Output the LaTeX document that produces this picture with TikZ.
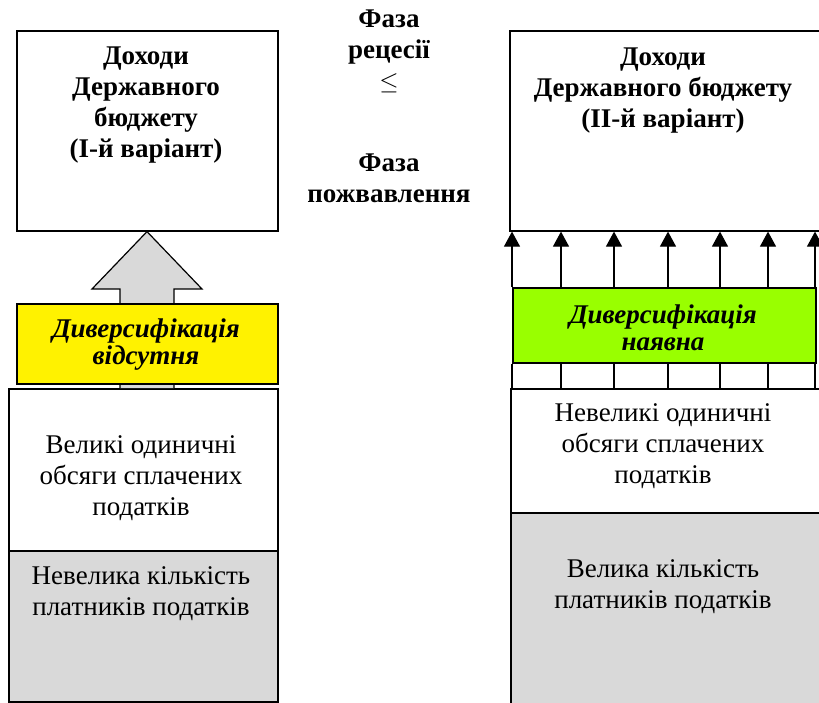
\documentclass[tikz,border=0pt]{standalone}
\usepackage{fontspec}
\setmainfont{Liberation Serif}
\usetikzlibrary{positioning,arrows.meta}
\tikzset{>={Triangle[length=15pt,width=16pt]}}
\definecolor{divgreen}{RGB}{153,255,0}

\begin{document}
\begin{tikzpicture}[x=1pt,y=-1pt,
	box/.style = {% plain boxes
		draw, line width=1.6pt, inner sep=0pt, anchor=north west},
	hd/.style = {% bold headings
		font=\fontsize{27}{31}\selectfont\bfseries, align=center},
	tx/.style = {% body text
		font=\fontsize{27}{31}\selectfont, align=center},
	dv/.style = {% diversification labels
		font=\fontsize{27}{27}\selectfont\bfseries\itshape, align=center},
	]
	\useasboundingbox (0,0) rectangle (819,702);

	% left column
	\node[box, minimum width=261pt, minimum height=200pt] (inc1) at (16,30) {};
	\node[hd] (inc1t) at (146,105) {Доходи\\Державного\\бюджету\\(І-й варіант)};
	\node[box, minimum width=269pt, minimum height=162pt] (vol1) at (8,388) {};
	\node[tx] (vol1t) at (141,478) {Великі одиничні\\обсяги сплачених\\податків};
	\node[box, fill=black!15, minimum width=269pt, minimum height=151pt] (num1) at (8,550) {};
	\node[tx] (num1t) at (141,594) {Невелика кількість\\платників податків};
	% big arrow
	\draw[line width=1.2pt, fill=black!15]
		(vol1.north -| 120,0) -- (120,289) -- (92,289) -- (inc1.south -| 147,0)
		-- (202,289) -- (174,289) -- (vol1.north -| 174,0);
	\node[box, fill=yellow, minimum width=261pt, minimum height=80pt] (div1) at (16,303) {};
	\node[dv] (div1t) at (146,345) {Диверсифікація\\відсутня};

	% phases
	\node[hd] (ph1) at (389,51) {Фаза\\рецесії\\$\leq$};
	\node[hd] (ph2) at (389,178) {Фаза\\пожвавлення};

	% right column
	\node[box, minimum width=312pt, minimum height=200pt] (inc2) at (509,30) {};
	\node[hd] (inc2t) at (663,91) {Доходи\\Державного бюджету\\(ІІ-й варіант)};
	\node[box, fill=divgreen, minimum width=303pt, minimum height=75pt] (div2) at (512,287) {};
	\node[dv] (div2t) at (663,328) {Диверсифікація\\наявна};
	\node[box, minimum width=312pt, minimum height=124pt] (vol2) at (510,388) {};
	\node[tx] (vol2t) at (663,446) {Невеликі одиничні\\обсяги сплачених\\податків};
	\node[box, fill=black!15, minimum width=312pt, minimum height=200pt] (num2) at (510,512) {};
	\node[tx] (num2t) at (663,587) {Велика кількість\\платників податків};
	% small arrows
	\foreach \x in {512,561,614,668,720,768,815}{
		\coordinate (c) at (\x,0);
		\draw[->,line width=1.2pt] (div2.north -| c) -- (inc2.south -| c);
		\draw[line width=1.2pt] (div2.south -| c) -- (vol2.north -| c);
	}

\end{tikzpicture}
\end{document}
